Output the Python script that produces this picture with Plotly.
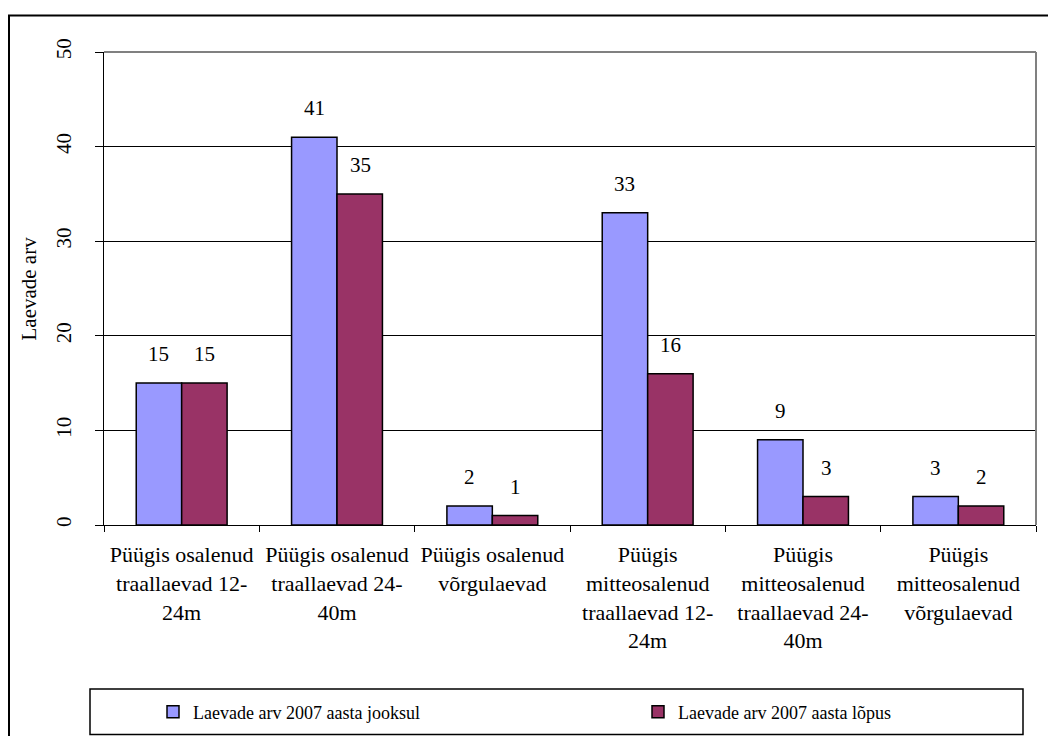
import plotly.graph_objects as go

# andmed
categories = [
    "Püügis osalenud<br>traallaevad 12-<br>24m",
    "Püügis osalenud<br>traallaevad 24-<br>40m",
    "Püügis osalenud<br>võrgulaevad",
    "Püügis<br>mitteosalenud<br>traallaevad 12-<br>24m",
    "Püügis<br>mitteosalenud<br>traallaevad 24-<br>40m",
    "Püügis<br>mitteosalenud<br>võrgulaevad",
]
series_names = ["Laevade arv 2007 aasta jooksul", "Laevade arv 2007 aasta lõpus"]
during_2007 = [15, 41, 2, 33, 9, 3]
end_2007 = [15, 35, 1, 16, 3, 2]
y_ticks = [0, 10, 20, 30, 40, 50]

COLORS = ['#9999FF', '#993366']
FONT = "Liberation Serif"

OFF = 8                      # lehe vaikimisi body margin
W, H = 1056 - OFF, 736 - OFF
L, R, T, B = 104, 1036, 52, 525  # joonisala ekraanipikslites


def px_x(x):
    return (x - L) / (R - L)


def px_y(y):
    return (B - y) / (B - T)


fig = go.Figure()

for name, vals, col, leg in zip(series_names, [during_2007, end_2007], COLORS,
                                ['legend', 'legend2']):
    fig.add_trace(go.Bar(
        x=categories,
        y=vals,
        name=name,
        legend=leg,
        marker=dict(color=col, line=dict(color='black', width=1.5)),
    ))

# andmesildid
for vals, shift in [(during_2007, -23), (end_2007, 23)]:
    for cat, v in zip(categories, vals):
        fig.add_annotation(
            x=cat, y=v, text=str(v), showarrow=False,
            xshift=shift, yshift=15, yanchor='bottom',
            font=dict(family=FONT, size=21, color='black'),
        )

# y-telje pealkiri
fig.add_annotation(
    xref='paper', yref='paper', x=px_x(28), y=0.5,
    xanchor='center', yanchor='middle',
    text="Laevade arv", textangle=-90, showarrow=False,
    font=dict(family=FONT, size=21, color='black'),
)

# välimine raam, legendi kast, joonisala hall serv
fig.add_shape(type='rect', xref='paper', yref='paper',
              x0=px_x(9), x1=px_x(1070), y0=px_y(750), y1=px_y(15.5),
              line=dict(color='black', width=2))
fig.add_shape(type='rect', xref='paper', yref='paper',
              x0=px_x(90), x1=px_x(1023), y0=px_y(734.5), y1=px_y(689),
              line=dict(color='black', width=1.5))
fig.add_shape(type='line', xref='x domain', yref='y domain',
              x0=0, x1=1, y0=1, y1=1, line=dict(color='#808080', width=2))
fig.add_shape(type='line', xref='x domain', yref='y domain',
              x0=1, x1=1, y0=0, y1=1, line=dict(color='#808080', width=2))

legend_style = dict(
    xanchor='left', y=px_y(712), yanchor='middle',
    font=dict(family=FONT, size=18, color='black'),
    bgcolor='rgba(0,0,0,0)',
)

fig.update_layout(
    width=W, height=H,
    margin=dict(l=L - OFF, r=W + OFF - R, t=T - OFF, b=H + OFF - B, autoexpand=False),
    paper_bgcolor='white',
    plot_bgcolor='white',
    font=dict(family=FONT, size=22, color='black'),
    barmode='group',
    bargap=0.415,
    bargroupgap=0,
    showlegend=True,
    legend=dict(x=px_x(153), **legend_style),
    legend2=dict(x=px_x(638), **legend_style),
    xaxis=dict(
        showline=True, linecolor='black', linewidth=1,
        ticks='outside', ticklen=6, tickcolor='black',
        tickson='boundaries',
        tickfont=dict(family=FONT, size=22),
        ticklabelstandoff=10,
    ),
    yaxis=dict(
        range=[0, 50], tickvals=y_ticks,
        showline=True, linecolor='black', linewidth=1,
        ticks='outside', ticklen=8, tickcolor='black',
        tickangle=-90,
        tickfont=dict(family=FONT, size=21),
        ticklabelstandoff=16,
        showgrid=True, gridcolor='black', gridwidth=1,
        zeroline=False,
    ),
)

fig.write_html("out.html")
